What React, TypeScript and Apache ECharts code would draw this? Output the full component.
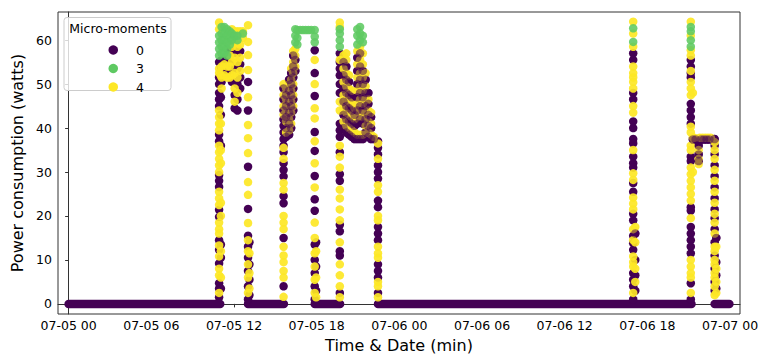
import React, { useEffect, useRef } from "react";
import * as echarts from "echarts";

// x values are hours after 07-05 00:00
const xTickHours = [0, 6, 12, 18, 24, 30, 36, 42, 48];
const xTickLabels = ["07-05 00", "07-05 06", "07-05 12", "07-05 18", "07-06 00", "07-06 06", "07-06 12", "07-06 18", "07-07 00"];
const yTicks = [0, 10, 20, 30, 40, 50, 60];

// runs of zero consumption (class 0), [start hour, end hour]
const zeroRuns: [number, number][] = [
  [0, 11.0],
  [13.02, 15.62],
  [17.86, 19.7],
  [22.45, 45.2],
  [46.88, 47.95],
];

// columns of readings: [hour, watts...]
// class 0 readings in the sparse columns
const purpleColumns: [number, number[]][] = [
  [10.92, [55, 51.5, 50, 48, 46.5, 45, 38.5, 37, 29.3, 28, 26.6, 21.4, 19.8, 14.5, 12.3, 9.2, 4.7, 3.5, 1.5]],
  [11.05, [54, 50.5, 47, 43, 36, 13.5, 10.5, 3.5]],
  [11.1, [55.5, 53, 50.5]],
  [11.3, [55.5, 53]],
  [11.5, [55, 52.5]],
  [11.7, [57.5, 55, 52.5]],
  [11.85, [57, 53.5, 50.5]],
  [12.05, [57.5, 54, 50.5, 47.5, 44.5]],
  [12.25, [57, 53.5, 50, 46.5, 44]],
  [12.45, [57.5, 54.5, 51.5, 49]],
  [13.02, [50.5, 44, 31.2, 21.6, 15.5, 13, 10.5, 7.5, 4, 1]],
  [13.12, [14, 9, 5.5, 2]],
  [15.6, [40.5, 39, 37.5, 36, 34.5, 32, 30.5, 29, 24.5, 22.9, 15, 4]],
  [17.86, [57.7, 52.5, 47.3, 39.1, 34.8, 29.1, 23.8, 21.2, 13.5, 10, 7, 4, 1]],
  [17.96, [14, 8.5, 3]],
  [19.68, [57, 55, 53.5, 52, 50, 48, 41, 39.5, 38, 34.5, 29.5, 28, 18, 16.5, 12, 11, 2.5]],
  [22.45, [37, 35.5, 34, 31.5, 30, 28.5, 23.5, 22, 17.5, 16, 14.5, 9, 7.5, 6, 2.5]],
  [40.97, [57, 55.5, 48, 46.5, 41.5, 40, 37.5, 36.5, 33.5, 32, 31, 27.5, 25.5, 20.5, 19, 15.5, 13.8, 12.3, 7, 5.5, 4, 1]],
  [41.12, [10, 6.5, 3]],
  [45.15, [55.5, 54, 52.5, 51.5, 45.5, 44, 42.5, 41, 33.5, 32.5, 22, 21.2, 17.5, 16, 14.5, 13, 11.5, 4.7, 1]],
  [46.88, [36, 34, 31.5, 29, 26.5, 24, 21.5, 19.5, 17, 14, 11, 8, 5, 3]],
  [47.0, [9.5, 6.5, 3.5]],
];

// class 0 readings in the densely mixed (olive-looking) stretches
const purpleMixColumns: [number, number[]][] = [
  [15.6, [49, 46.5, 44, 42]],
  [15.78, [47.5, 45, 42.5, 40, 38]],
  [16.0, [51, 48.5, 46, 43.5, 41, 38.5]],
  [16.15, [52.5, 50, 47.5, 45, 42.5, 40]],
  [16.3, [56.5, 54, 51.5, 49, 46.5, 44]],
  [16.45, [55.5, 53]],
  [19.95, [55, 52, 49, 46, 43, 40]],
  [20.15, [54, 51, 48, 45, 42, 39]],
  [20.35, [50.5, 47.5, 44.5, 41.5, 38.5]],
  [20.55, [47, 44, 41, 38]],
  [20.75, [43, 40.5, 37.5]],
  [20.95, [56, 53, 50, 47, 44, 41, 37.5]],
  [21.15, [57, 54, 51, 48, 45, 42, 37.5]],
  [21.35, [53, 50, 47, 44, 41, 37.5]],
  [21.55, [51, 48, 45, 42, 39]],
  [21.75, [48, 45.5, 43, 40.5, 38]],
  [21.95, [42.5, 40, 37.5]],
  [22.15, [37.5]],
  [41.12, [16]],
  [45.3, [37.4]],
  [45.5, [37.4]],
  [45.72, [36, 34, 32.5]],
  [45.9, [37.4]],
  [46.1, [37.4]],
  [46.3, [37.4]],
  [46.5, [37.4]],
  [46.88, [37.5]],
  [47.0, [15]],
];

const yellowColumns: [number, number[]][] = [
  [10.92, [64, 62.5, 53.5, 52.5, 44, 42.5, 41, 39.5, 36, 34.5, 33, 31.5, 30, 25.5, 24, 22.5, 18.5, 17, 16, 13.3, 10.8, 8, 6.5, 2.5]],
  [11.05, [52, 41, 35, 32, 23, 20, 12, 6]],
  [11.1, [54, 51.5, 49]],
  [11.3, [54.5, 52]],
  [11.5, [54, 51.5]],
  [11.7, [56.5, 54, 51.5]],
  [11.85, [62.5, 58.5, 55, 52]],
  [12.05, [62, 59.5, 56, 52.5, 49, 46]],
  [12.25, [62, 58.5, 55, 51.5, 48]],
  [12.45, [62, 59, 56, 53]],
  [12.65, [62, 60.5]],
  [13.02, [63.4, 59.6, 56.6, 53.2, 47, 40.7, 37.7, 34.3, 27.7, 24.8, 18.4, 14.5, 12, 9, 6, 2.5]],
  [13.12, [11.5, 7, 3.5]],
  [15.6, [50, 47.5, 45, 43, 35.5, 33, 27.5, 26, 20, 18.5, 17, 13, 11, 9.5, 7.5, 6, 1.6]],
  [15.78, [49, 46.5, 44, 41.5, 39]],
  [16.0, [49.5, 47, 44.5, 42, 39.5]],
  [16.15, [53.5, 51, 48.5, 46, 43.5, 41]],
  [16.3, [57.5, 55, 52.5, 50, 47.5, 45]],
  [16.45, [58, 56.5, 54]],
  [17.86, [55.5, 50, 44.5, 42.2, 37, 32, 26.5, 18.5, 15, 11.5, 8.5, 5.5, 2.5]],
  [17.96, [12, 6, 1.5]],
  [19.68, [64, 63, 55.5, 46, 44, 36, 33.5, 31, 26, 24, 21.5, 19, 14, 9, 6.5, 4, 1.5]],
  [19.95, [56.5, 53.5, 50.5, 47.5, 44.5, 41.5]],
  [20.15, [57, 55.5, 52.5, 49.5, 46.5, 43.5, 40.5]],
  [20.35, [52, 49, 46, 43, 40]],
  [20.55, [48.5, 45.5, 42.5, 39.5]],
  [20.75, [44.5, 42, 39]],
  [20.95, [57.5, 54.5, 51.5, 48.5, 45.5, 42.5, 38.5]],
  [21.15, [58.5, 55.5, 52.5, 49.5, 46.5, 43.5, 38.5]],
  [21.35, [57, 54.5, 51.5, 48.5, 45.5, 42.5, 38.5]],
  [21.55, [52.5, 49.5, 46.5, 43.5, 40.5]],
  [21.75, [46.5, 44, 41.5, 39]],
  [21.95, [43.5, 41, 38.5]],
  [22.15, [38]],
  [22.45, [36.5, 33, 27, 25.5, 20, 19, 13, 11.5, 10.5, 5, 4, 1.5]],
  [40.97, [64.2, 61.5, 58.5, 54, 52.5, 51.5, 50.5, 49, 45, 43.5, 35, 29.7, 28.2, 24.2, 22.8, 21.5, 17, 14.5, 10.8, 9.5, 8.5, 2.5]],
  [41.12, [17.5, 14, 8, 5]],
  [45.15, [64.2, 61, 57.7, 56.5, 53, 50.5, 49, 47.5, 40.3, 39, 36, 35, 31, 29.5, 28, 26.5, 25, 23.5, 19.5, 10, 8.5, 7, 6, 2.5]],
  [45.3, [48, 30, 37.8]],
  [45.4, [37.8]],
  [45.72, [35, 33, 31.8]],
  [45.8, [37.8]],
  [46.0, [37.8]],
  [46.2, [37.8]],
  [46.4, [37.8]],
  [46.6, [37.8]],
  [46.88, [36.8, 35, 33, 30.5, 28, 25.5, 23, 20.5, 18.5, 16, 13, 12, 10, 9, 7, 6, 4, 2]],
  [47.0, [13, 8, 5, 2.5]],
];

const greenColumns: [number, number[]][] = [
  [10.92, [61, 59.5, 58, 56.5]],
  [11.1, [63, 61.5, 60, 58.5, 57]],
  [11.3, [63, 61.5, 60, 58.5, 57]],
  [11.5, [62.5, 61, 59.5, 58, 56.5]],
  [11.7, [62, 60.5, 59]],
  [11.85, [61.5, 60]],
  [12.05, [61]],
  [12.25, [61, 60]],
  [12.65, [61.5]],
  [16.45, [62.5, 61, 59.5]],
  [16.6, [62.3, 60.5, 59]],
  [16.8, [62.3]],
  [17.0, [62.3]],
  [17.2, [62.3]],
  [17.4, [62.3]],
  [17.6, [62.3]],
  [17.86, [62.3, 60.8, 59.5]],
  [19.68, [62.5, 61.5, 60, 58.5]],
  [20.95, [62.5, 61, 59]],
  [21.15, [63, 61.5, 60]],
  [21.35, [61, 59.5]],
  [40.97, [62.7, 59.6]],
  [45.15, [63, 62, 60, 58.5]],
];

const PURPLE = "#440154";
const GREEN = "#5ec962";
const YELLOW = "#fde725";
const FONT = "DejaVu Sans";

const toPoints = (cols: [number, number[]][]) =>
  cols.flatMap(([t, vs]) => vs.map((v) => [t, v]));

export default function App() {
  const ref = useRef<HTMLDivElement>(null);
  useEffect(() => {
    if (!ref.current) return;
    const chart = echarts.init(ref.current, undefined, { renderer: "svg" });
    const scatterBase = {
      type: "scatter" as const,
      symbol: "circle",
      symbolSize: 8.5,
      silent: true,
    };
    const zeroSeries = zeroRuns.map(([a, b], i) => ({
      type: "line" as const,
      name: "zero-run-" + i,
      data: [
        [a, 0],
        [b, 0],
      ],
      showSymbol: false,
      silent: true,
      z: 1,
      lineStyle: { color: PURPLE, width: 8.5, cap: "round" as const },
    }));
    chart.setOption({
      animation: false,
      grid: {
        left: 58,
        top: 12,
        right: 22,
        bottom: 40,
        show: true,
        borderColor: "#333",
        borderWidth: 1,
        backgroundColor: "transparent",
        outerBoundsMode: "none",
        containLabel: false,
      },
      legend: {
        data: [
          { name: "0", icon: "circle" },
          { name: "3", icon: "circle" },
          { name: "4", icon: "circle" },
        ],
        orient: "vertical",
        left: 103.5,
        top: 38.5,
        itemWidth: 9.5,
        itemHeight: 9.5,
        itemGap: 5.5,
        selectedMode: false,
        z: 6,
        itemStyle: { opacity: 1 },
        textStyle: {
          fontFamily: FONT,
          fontSize: 12.5,
          color: "#000",
          lineHeight: 12,
          padding: [0, 0, 0, 13],
        },
      },
      graphic: [
        {
          type: "rect",
          z: 5,
          shape: { x: 64, y: 17.5, width: 107, height: 73, r: 3 },
          style: { fill: "rgba(255,255,255,0.8)", stroke: "#cccccc", lineWidth: 1 },
        },
        {
          type: "text",
          z: 6,
          x: 118,
          y: 28,
          style: {
            text: "Micro-moments",
            fontFamily: FONT,
            fontSize: 12.5,
            fill: "#000",
            align: "center",
            verticalAlign: "middle",
          },
        },
      ],
      xAxis: {
        type: "value",
        min: -0.77,
        max: 48.72,
        name: "Time & Date (min)",
        nameLocation: "middle",
        nameGap: 23,
        nameTextStyle: { fontFamily: FONT, fontSize: 16, color: "#000" },
        splitLine: { show: false },
        axisLine: { show: true, lineStyle: { color: "#333", width: 1 } },
        axisTick: { show: true, customValues: xTickHours, length: 3.5, lineStyle: { color: "#333" } },
        axisLabel: {
          customValues: xTickHours,
          margin: 5,
          fontFamily: FONT,
          fontSize: 12.5,
          color: "#000",
          formatter: (v: number) => {
            const i = xTickHours.indexOf(v);
            return i >= 0 ? xTickLabels[i] : "";
          },
        },
      },
      yAxis: {
        type: "value",
        min: -2.3,
        max: 66.4,
        name: "Power consumption (watts)",
        nameLocation: "middle",
        nameGap: 23,
        nameTextStyle: { fontFamily: FONT, fontSize: 16, color: "#000" },
        splitLine: { show: false },
        axisLine: { show: true, lineStyle: { color: "#333", width: 1 } },
        axisTick: { show: true, customValues: yTicks, length: 3.5, lineStyle: { color: "#333" } },
        axisLabel: {
          customValues: yTicks,
          margin: 6,
          fontFamily: FONT,
          fontSize: 12.5,
          color: "#000",
        },
      },
      series: [
        ...zeroSeries,
        {
          ...scatterBase,
          name: "0",
          z: 2,
          data: [...toPoints(purpleColumns), ...toPoints(purpleMixColumns)],
          itemStyle: { color: PURPLE, opacity: 1 },
        },
        {
          ...scatterBase,
          name: "4",
          z: 3,
          data: toPoints(yellowColumns),
          itemStyle: { color: YELLOW, opacity: 0.92 },
        },
        {
          ...scatterBase,
          name: "0",
          z: 3.5,
          data: toPoints(purpleMixColumns),
          itemStyle: { color: PURPLE, opacity: 0.5 },
        },
        {
          ...scatterBase,
          name: "3",
          z: 4,
          data: toPoints(greenColumns),
          itemStyle: { color: GREEN, opacity: 0.88 },
        },
      ],
    });
    return () => chart.dispose();
  }, []);
  return (
    <div
      ref={ref}
      style={{ position: "absolute", left: 0, top: 0, width: 762, height: 354 }}
    />
  );
}
